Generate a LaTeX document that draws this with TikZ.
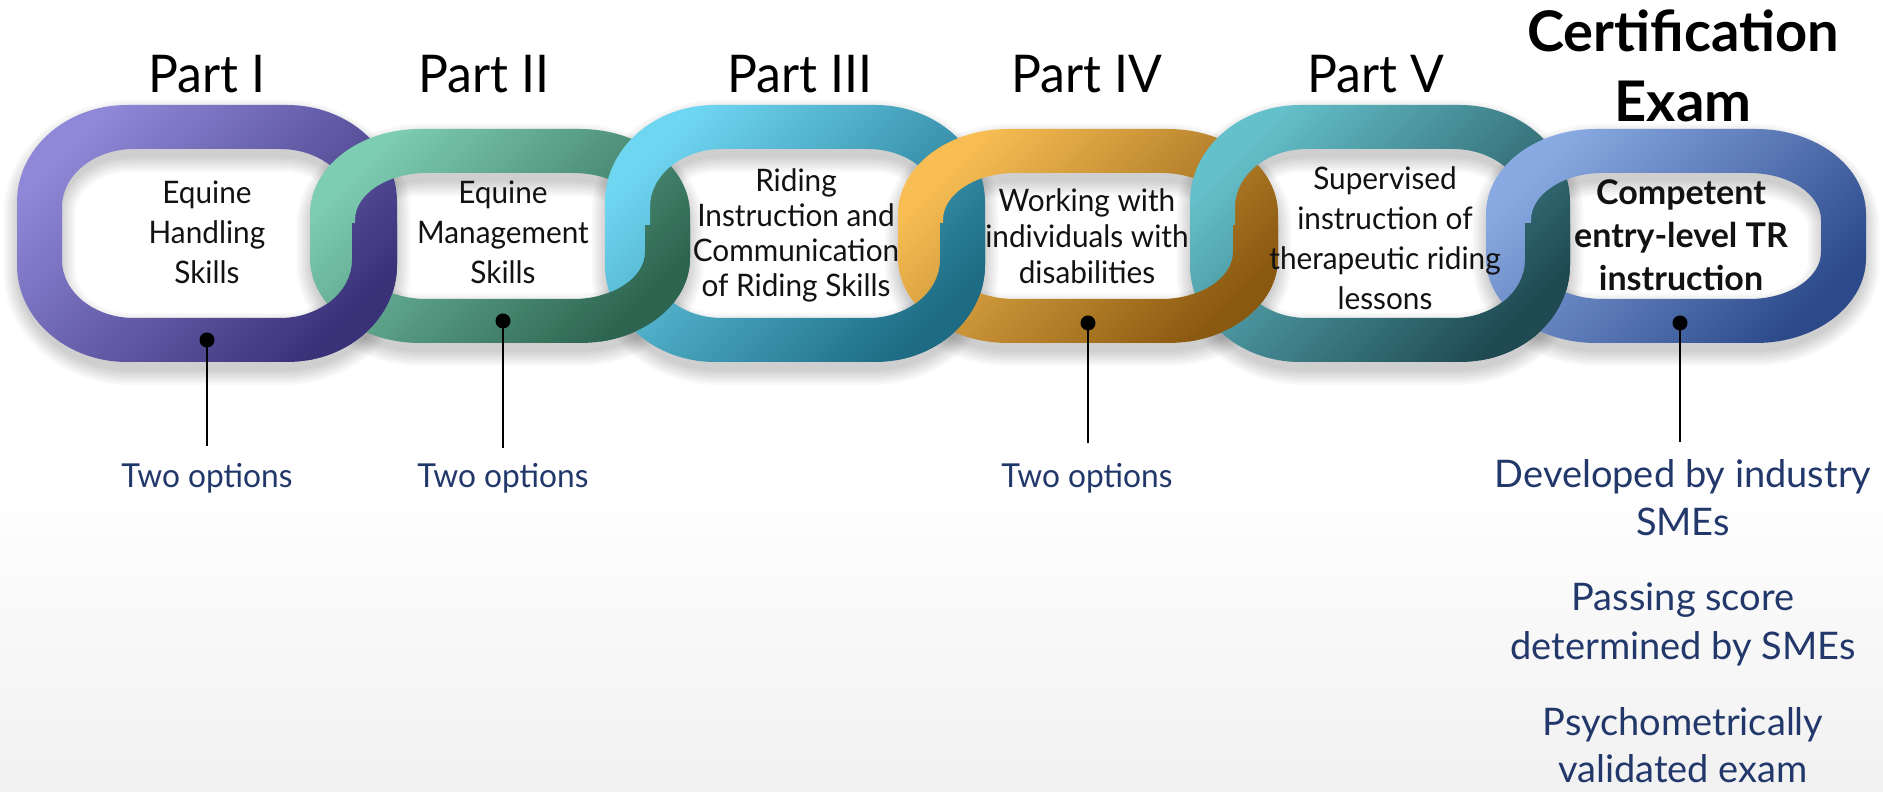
\documentclass[tikz,border=0pt]{standalone}
\usepackage{fontspec}
\setmainfont{Lato}
\newfontfamily\condf[FakeStretch=0.96]{Lato}
\definecolor{caa}{HTML}{8F88D8}\definecolor{cab}{HTML}{3A3279}
\definecolor{cba}{HTML}{7DCDB2}\definecolor{cbb}{HTML}{2D6450}
\definecolor{cca}{HTML}{6FD6F2}\definecolor{ccb}{HTML}{1D6C84}
\definecolor{cda}{HTML}{F8BE54}\definecolor{cdb}{HTML}{8A5910}
\definecolor{cea}{HTML}{64C0CA}\definecolor{ceb}{HTML}{1F4A52}
\definecolor{cfa}{HTML}{89A9E2}\definecolor{cfb}{HTML}{2C4A8A}
\definecolor{navy}{HTML}{22386B}
% rounded rectangle with elliptical corners: half width, half height, rx, ry
\newcommand\rrp[4]{({#1},0) -- ({#1},{(#2)-(#4)}) arc[start angle=0,end angle=90,x radius={(#3)*1pt},y radius={(#4)*1pt}] -- ({-(#1)+(#3)},{#2}) arc[start angle=90,end angle=180,x radius={(#3)*1pt},y radius={(#4)*1pt}] -- ({-(#1)},{-(#2)+(#4)}) arc[start angle=180,end angle=270,x radius={(#3)*1pt},y radius={(#4)*1pt}] -- ({(#1)-(#3)},{-(#2)}) arc[start angle=270,end angle=360,x radius={(#3)*1pt},y radius={(#4)*1pt}] -- cycle}
% ring body: cx, cy, half height, outer ry, inner ry, color a, color b
\newcommand\ringbody[7]{%
  \begin{scope}[shift={(#1,#2)}]
    \shade[even odd rule,left color=#6,right color=#7,shading angle=45]
      \rrp{190}{#3}{110}{#4} \rrp{145}{#3-44}{72}{#5};
  \end{scope}}
\newcommand\ringshadow[5]{%
  \begin{scope}[shift={(#1,{#2-9})}]
    \foreach \k in {0,...,7}{
      \draw[black,draw opacity=0.022,line width={(44+4*\k)*1pt}] \rrp{167.5}{#3-22}{91}{(#4+#5)/2};
    }
  \end{scope}}
\newcommand\ringover[7]{%
  \begin{scope}
    \clip ({#1+100},{#2-#3-5}) rectangle ({#1+200},{#2+10});
    \ringbody{#1}{#2}{#3}{#4}{#5}{#6}{#7}
  \end{scope}}
\tikzset{
  partlab/.style={font=\condf\fontsize{52}{60}\selectfont,anchor=base,inner sep=0},
  certlab/.style={font=\bfseries\fontsize{56}{60}\selectfont,anchor=base,inner sep=0},
  ringtxt/.style={align=center,inner sep=0,text=black!93},
  dotst/.style={circle,fill=black,inner sep=0,minimum size=15pt},
  conn/.style={black,line width=2.5pt},
  optlab/.style={font=\condf\fontsize{33}{38}\selectfont,text=navy,anchor=base,inner sep=0},
  sidelab/.style={font=\fontsize{38}{44}\selectfont,text=navy,anchor=base,inner sep=0}
}
\begin{document}
\begin{tikzpicture}[x=1pt,y=1pt]
\useasboundingbox (0,0) rectangle (1883,792);
\fill[white] (0,0) rectangle (1883,792);
\shade[top color=white,bottom color=black!5.5] (0,0) rectangle (1883,312);
% shadows
\ringshadow{207}{558.5}{128.5}{97}{58}
\ringshadow{500}{556}{107}{85}{47}
\ringshadow{795}{558.5}{128.5}{97}{58}
\ringshadow{1088}{556}{107}{85}{47}
\ringshadow{1380}{558.5}{128.5}{97}{58}
\ringshadow{1676}{556}{107}{85}{47}
% rings
\ringbody{207}{558.5}{128.5}{97}{58}{caa}{cab}
\ringbody{500}{556}{107}{85}{47}{cba}{cbb}
\ringbody{795}{558.5}{128.5}{97}{58}{cca}{ccb}
\ringbody{1088}{556}{107}{85}{47}{cda}{cdb}
\ringbody{1380}{558.5}{128.5}{97}{58}{cea}{ceb}
\ringbody{1676}{556}{107}{85}{47}{cfa}{cfb}
% interlock: left ring over right ring at the lower crossing
\ringover{207}{558.5}{128.5}{97}{58}{caa}{cab}
\ringover{500}{556}{107}{85}{47}{cba}{cbb}
\ringover{795}{558.5}{128.5}{97}{58}{cca}{ccb}
\ringover{1088}{556}{107}{85}{47}{cda}{cdb}
\ringover{1380}{558.5}{128.5}{97}{58}{cea}{ceb}
% part labels
\node[partlab] (p1) at (207,699) {Part I};
\node[partlab] (p2) at (484,699) {Part II};
\node[partlab] (p3) at (800,699) {Part III};
\node[partlab] (p4) at (1087,699) {Part IV};
\node[partlab] (p5) at (1376,699) {Part V};
\node[certlab] (c1) at (1683,740) {Certification};
\node[certlab] (c2) at (1683,670) {Exam};
% ring texts
\node[ringtxt,font=\condf\fontsize{31}{40}\selectfont] (t1) at (207,560) {Equine\\Handling\\Skills};
\node[ringtxt,font=\condf\fontsize{31}{40}\selectfont] (t2) at (503,560) {Equine\\Management\\Skills};
\node[ringtxt,font=\condf\fontsize{31}{35}\selectfont] (t3) at (796,557) {Riding\\Instruction and\\Communication\\of Riding Skills};
\node[ringtxt,font=\condf\fontsize{31}{36}\selectfont] (t4) at (1087,556) {Working with\\individuals with\\disabilities};
\node[ringtxt,font=\condf\fontsize{31}{40}\selectfont] (t5) at (1385,554) {Supervised\\instruction of\\therapeutic riding\\lessons};
\node[ringtxt,font=\bfseries\fontsize{34}{43}\selectfont] (t6) at (1681,557) {Competent\\entry-level TR\\instruction};
% dots and connectors
\node[dotst] (d1) at (207,452) {};
\node[dotst] (d2) at (503,471) {};
\node[dotst] (d4) at (1088,469) {};
\node[dotst] (d6) at (1680,469) {};
\coordinate (e1) at (207,346);
\coordinate (e2) at (503,344);
\coordinate (e4) at (1088,349);
\coordinate (e6) at (1680,350);
\draw[conn] (d1.center) -- (e1);
\draw[conn] (d2.center) -- (e2);
\draw[conn] (d4.center) -- (e4);
\draw[conn] (d6.center) -- (e6);
\node[optlab] (o1) at (207,304) {Two options};
\node[optlab] (o2) at (503,304) {Two options};
\node[optlab] (o4) at (1087,304) {Two options};
\node[sidelab] (s1) at (1683,304) {Developed by industry};
\node[sidelab] (s2) at (1683,256) {SMEs};
\node[sidelab] (s3) at (1683,181) {Passing score};
\node[sidelab] (s4) at (1683,132) {determined by SMEs};
\node[sidelab] (s5) at (1683,56) {Psychometrically};
\node[sidelab] (s6) at (1683,9) {validated exam};
\end{tikzpicture}
\end{document}
